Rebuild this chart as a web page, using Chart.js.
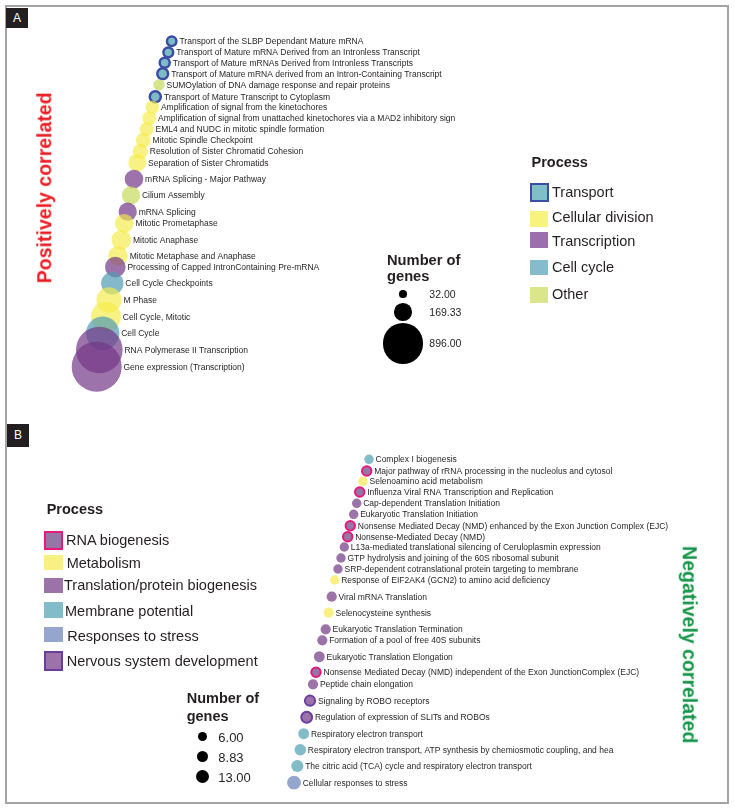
<!DOCTYPE html>
<html>
<head>
<meta charset="utf-8">
<script src="https://cdn.jsdelivr.net/npm/chart.js@4/dist/chart.umd.min.js"></script>
<style>
  html, body { margin:0; padding:0; background:#fff; }
  #wrap { position:relative; width:735px; height:811px; overflow:hidden; font-family:"Liberation Sans", Arial, Helvetica, sans-serif; color:#231f20; }
  #c { position:absolute; left:0; top:0; }
  .frame { position:absolute; left:5px; top:5px; width:720px; height:795px; border:2px solid #a3a3a3; }
  .tag { position:absolute; background:#231f20; color:#fff; font-size:12px; text-align:center; }
  .t { position:absolute; white-space:nowrap; line-height:1; }
  .sw { position:absolute; box-sizing:border-box; }
  .dot { position:absolute; background:#000; border-radius:50%; }
  .rot { position:absolute; white-space:nowrap; text-align:center; font-weight:bold; font-size:19.5px; line-height:1; }
</style>
</head>
<body>
<div id="wrap">
  <canvas id="c" width="735" height="811"></canvas>
  <div class="frame"></div>
  <div class="tag" style="left:6px;top:8px;width:22px;height:20px;line-height:20px;">A</div>
  <div class="tag" style="left:7px;top:424px;width:22px;height:23px;line-height:23px;">B</div>
  <div class="rot" id="titleA" style="left:-65px;top:177.5px;width:220px;color:#ed1c24;transform:rotate(-90deg);">Positively correlated</div>
  <div class="rot" id="titleB" style="left:579px;top:635px;width:220px;color:#149447;transform:rotate(90deg);">Negatively correlated</div>
  <div id="legends"></div>
</div>
<script>
// ---------------- Panel A: positively correlated pathways ----------------
const pathwaysA = [
  "Transport of the SLBP Dependant Mature mRNA",
  "Transport of Mature mRNA Derived from an Intronless Transcript",
  "Transport of Mature mRNAs Derived from Intronless Transcripts",
  "Transport of Mature mRNA derived from an Intron-Containing Transcript",
  "SUMOylation of DNA damage response and repair proteins",
  "Transport of Mature Transcript to Cytoplasm",
  "Amplification of signal from the kinetochores",
  "Amplification of signal from unattached kinetochores via a MAD2 inhibitory sign",
  "EML4 and NUDC in mitotic spindle formation",
  "Mitotic Spindle Checkpoint",
  "Resolution of Sister Chromatid Cohesion",
  "Separation of Sister Chromatids",
  "mRNA Splicing - Major Pathway",
  "Cilium Assembly",
  "mRNA Splicing",
  "Mitotic Prometaphase",
  "Mitotic Anaphase",
  "Mitotic Metaphase and Anaphase",
  "Processing of Capped IntronContaining Pre-mRNA",
  "Cell Cycle Checkpoints",
  "M Phase",
  "Cell Cycle, Mitotic",
  "Cell Cycle",
  "RNA Polymerase II Transcription",
  "Gene expression (Transcription)"
];
const processA = [
  "Transport","Transport","Transport","Transport","Other","Transport",
  "Cellular division","Cellular division","Cellular division","Cellular division","Cellular division","Cellular division",
  "Transcription","Other","Transcription",
  "Cellular division","Cellular division","Cellular division",
  "Transcription","Cell cycle","Cellular division","Cellular division","Cell cycle",
  "Transcription","Transcription"
];
const scoreA = [1.717,1.683,1.647,1.627,1.590,1.553,1.523,1.493,1.467,1.433,1.403,1.373,1.340,1.310,1.277,1.243,1.213,1.180,1.153,1.123,1.090,1.060,1.027,0.993,0.967];
const rankA  = [35.87,34.77,33.73,32.63,31.50,30.33,29.27,28.17,27.07,25.97,24.87,23.73,22.10,20.47,18.83,17.67,16.03,14.40,13.30,11.67,10.00,8.33,6.67,5.00,3.33];
const genesA = [32,34,36,42,46,44,66,70,70,80,84,116,124,120,120,125,138,140,153,180,230,323,400,780,896];
const processNamesA = ["Transport","Cellular division","Transcription","Cell cycle","Other"];
const sizeLegendA = [32.00, 169.33, 896.00];

// ---------------- Panel B: negatively correlated pathways ----------------
const pathwaysB = [
  "Complex I biogenesis",
  "Major pathway of rRNA processing in the nucleolus and cytosol",
  "Selenoamino acid metabolism",
  "Influenza Viral RNA Transcription and Replication",
  "Cap-dependent Translation Initiation",
  "Eukaryotic Translation Initiation",
  "Nonsense Mediated Decay (NMD) enhanced by the Exon Junction Complex (EJC)",
  "Nonsense-Mediated Decay (NMD)",
  "L13a-mediated translational silencing of Ceruloplasmin expression",
  "GTP hydrolysis and joining of the 60S ribosomal subunit",
  "SRP-dependent cotranslational protein targeting to membrane",
  "Response of EIF2AK4 (GCN2) to amino acid deficiency",
  "Viral mRNA Translation",
  "Selenocysteine synthesis",
  "Eukaryotic Translation Termination",
  "Formation of a pool of free 40S subunits",
  "Eukaryotic Translation Elongation",
  "Nonsense Mediated Decay (NMD) independent of the Exon JunctionComplex (EJC)",
  "Peptide chain elongation",
  "Signaling by ROBO receptors",
  "Regulation of expression of SLITs and ROBOs",
  "Respiratory electron transport",
  "Respiratory electron transport, ATP synthesis by chemiosmotic coupling, and hea",
  "The citric acid (TCA) cycle and respiratory electron transport",
  "Cellular responses to stress"
];
const processB = [
  "Membrane potential","RNA biogenesis","Metabolism","RNA biogenesis",
  "Translation/protein biogenesis","Translation/protein biogenesis",
  "RNA biogenesis","RNA biogenesis",
  "Translation/protein biogenesis","Translation/protein biogenesis","Translation/protein biogenesis",
  "Metabolism","Translation/protein biogenesis","Metabolism",
  "Translation/protein biogenesis","Translation/protein biogenesis","Translation/protein biogenesis",
  "RNA biogenesis","Translation/protein biogenesis",
  "Nervous system development","Nervous system development",
  "Membrane potential","Membrane potential","Membrane potential",
  "Responses to stress"
];
const scoreB = [3.690,3.667,3.630,3.597,3.567,3.537,3.503,3.477,3.443,3.410,3.380,3.347,3.317,3.287,3.257,3.223,3.193,3.160,3.130,3.100,3.067,3.037,3.003,2.973,2.940];
const rankB  = [35.17,34.00,32.97,31.90,30.77,29.67,28.53,27.43,26.40,25.30,24.20,23.10,21.43,19.83,18.17,17.07,15.43,13.87,12.67,11.03,9.37,7.73,6.13,4.50,2.83];
const genesB = [6,6,6,6,6,6,6,6,6,6,6,6,7,7,7,7,8,6,7,7,8,8,9,10,13];
const processNamesB = ["RNA biogenesis","Metabolism","Translation/protein biogenesis","Membrane potential","Responses to stress","Nervous system development"];
const sizeLegendB = [6.00, 8.83, 13.00];

// ---------------- styles (kept apart from the data) ----------------
const styleA = {
  "Transport":         {fill:"#7dbcc6", border:"#3b4da5", bw:2.5, sw:"#7fc0c8"},
  "Cellular division": {fill:"rgba(245,236,70,0.66)", border:"rgba(0,0,0,0)", bw:0, sw:"#f8f27e"},
  "Transcription":     {fill:"rgba(115,55,135,0.70)", border:"rgba(0,0,0,0)", bw:0, sw:"#9b6fae"},
  "Cell cycle":        {fill:"rgba(80,155,180,0.70)", border:"rgba(0,0,0,0)", bw:0, sw:"#85bccb"},
  "Other":             {fill:"rgba(195,215,80,0.66)", border:"rgba(0,0,0,0)", bw:0, sw:"#dbe68a"}
};
const styleB = {
  "RNA biogenesis":                 {fill:"#9676a5", border:"#e8177d", bw:2, sw:"#9676a5"},
  "Metabolism":                     {fill:"#f8f082", border:"rgba(0,0,0,0)", bw:0, sw:"#f8f082"},
  "Translation/protein biogenesis": {fill:"#9b73a8", border:"rgba(0,0,0,0)", bw:0, sw:"#9b73a8"},
  "Membrane potential":             {fill:"#82bcc8", border:"rgba(0,0,0,0)", bw:0, sw:"#82bcc8"},
  "Responses to stress":            {fill:"#96a5cd", border:"rgba(0,0,0,0)", bw:0, sw:"#96a5cd"},
  "Nervous system development":     {fill:"#9b73a8", border:"#6a3d9e", bw:2, sw:"#9b73a8"}
};
const kA = 0.835, kB = 1.92, kLegA = 0.68, kLegB = 1.85;
const radA = n => kA * Math.sqrt(n);
const radB = n => kB * Math.sqrt(n);

const dataA = pathwaysA.map((p, i) => ({x: scoreA[i], y: rankA[i], r: radA(genesA[i])}));
const dataB = pathwaysB.map((p, i) => ({x: scoreB[i], y: rankB[i], r: radB(genesB[i])}));

const labelPlugin = {
  id: 'pointLabels',
  afterDatasetsDraw(chart) {
    const c = chart.ctx;
    c.save();
    c.font = '8.5px "Liberation Sans", Arial, Helvetica, sans-serif';
    c.fillStyle = '#231f20';
    c.textAlign = 'left';
    c.textBaseline = 'middle';
    chart.data.datasets.forEach((ds, di) => {
      const names = di === 0 ? pathwaysA : pathwaysB;
      const meta = chart.getDatasetMeta(di);
      meta.data.forEach((el, i) => {
        const r = el.options.radius + (el.options.borderWidth || 0) / 2;
        c.fillText(names[i], el.x + r + 1.8, el.y + 0.5);
      });
    });
    c.restore();
  }
};

new Chart(document.getElementById('c'), {
  type: 'bubble',
  data: {
    datasets: [
      {
        label: 'Positively correlated',
        data: dataA,
        xAxisID: 'x', yAxisID: 'y',
        backgroundColor: ctx => styleA[processA[ctx.dataIndex]].fill,
        borderColor: ctx => styleA[processA[ctx.dataIndex]].border,
        borderWidth: ctx => styleA[processA[ctx.dataIndex]].bw
      },
      {
        label: 'Negatively correlated',
        data: dataB,
        xAxisID: 'x', yAxisID: 'y2',
        backgroundColor: ctx => styleB[processB[ctx.dataIndex]].fill,
        borderColor: ctx => styleB[processB[ctx.dataIndex]].border,
        borderWidth: ctx => styleB[processB[ctx.dataIndex]].bw
      }
    ]
  },
  options: {
    responsive: false,
    animation: false,
    devicePixelRatio: 1,
    events: [],
    layout: { padding: 0, autoPadding: false },
    plugins: { legend: { display: false }, tooltip: { enabled: false } },
    scales: {
      x:  { type: 'linear', display: false, min: 0, max: 7.35 },
      y:  { type: 'linear', display: false, min: -41.1, max: 40 },
      y2: { type: 'linear', display: false, min: 0, max: 81.1 }
    }
  },
  plugins: [labelPlugin]
});

// ---------------- HTML legends ----------------
const L = document.getElementById('legends');
function text(str, x, baseline, size, bold) {
  const d = document.createElement('div');
  d.className = 't';
  d.textContent = str;
  d.style.left = x + 'px';
  d.style.top = (baseline - 0.8465 * size) + 'px';
  d.style.fontSize = size + 'px';
  d.style.height = size + 'px';
  if (bold) d.style.fontWeight = 'bold';
  L.appendChild(d);
}
function swatch(x, y, w, h, st) {
  const d = document.createElement('div');
  d.className = 'sw';
  d.style.left = x + 'px'; d.style.top = y + 'px';
  d.style.width = w + 'px'; d.style.height = h + 'px';
  d.style.background = st.sw;
  if (st.bw) d.style.border = (st.bw) + 'px solid ' + st.border;
  L.appendChild(d);
}
function dot(cx, cy, r) {
  const d = document.createElement('div');
  d.className = 'dot';
  d.style.left = (cx - r) + 'px'; d.style.top = (cy - r) + 'px';
  d.style.width = (2 * r) + 'px'; d.style.height = (2 * r) + 'px';
  L.appendChild(d);
}

// Panel A legend layout
const legA = { titleX: 531.5, titleBase: 167.3, textX: 552, swX: 530, swW: 18,
  baselines: [197.3, 222.7, 246.7, 272.7, 299.0],
  swTop: [183, 211, 232, 259.5, 287], swH: [19, 15.5, 15.5, 15.5, 15.5] };
text("Process", legA.titleX, legA.titleBase, 14.5, true);
processNamesA.forEach((p, i) => {
  const st = styleA[p];
  swatch(st.bw ? legA.swX - 0.5 : legA.swX, legA.swTop[i], st.bw ? legA.swW + 1 : legA.swW, legA.swH[i], st);
  text(p, legA.textX, legA.baselines[i], 14.5, false);
});
text("Number of", 387, 265, 14.7, true);
text("genes", 387, 281.7, 14.7, true);
const sizeA = { cx: 403, cy: [294.3, 312, 343.3], labelX: 429.3, base: [298, 316, 347.3] };
sizeLegendA.forEach((v, i) => {
  dot(sizeA.cx, sizeA.cy[i], kLegA * Math.sqrt(v));
  text(v.toFixed(2), sizeA.labelX, sizeA.base[i], 10.5, false);
});

// Panel B legend layout
const legB = { titleX: 46.7, titleBase: 514.3,
  textX: [66, 66.7, 64, 65, 67.3, 66.7],
  baselines: [545.7, 568.3, 590, 616, 641.7, 666.7],
  swTop: [531, 555, 577.7, 602.3, 626.7, 651], swH: [19, 15, 15, 15.5, 15.5, 20] };
text("Process", legB.titleX, legB.titleBase, 14.5, true);
processNamesB.forEach((p, i) => {
  const st = styleB[p];
  swatch(43.5, legB.swTop[i], 19, legB.swH[i], st);
  text(p, legB.textX[i], legB.baselines[i], 14.5, false);
});
text("Number of", 186.7, 703.3, 14.5, true);
text("genes", 186.7, 721, 14.5, true);
const sizeB = { cx: 202.3, cy: [736.7, 756.7, 776.7], labelX: 218.3, base: [741.7, 761.7, 781.7] };
sizeLegendB.forEach((v, i) => {
  dot(sizeB.cx, sizeB.cy[i], kLegB * Math.sqrt(v));
  text(v.toFixed(2), sizeB.labelX, sizeB.base[i], 13, false);
});
</script>
</body>
</html>
